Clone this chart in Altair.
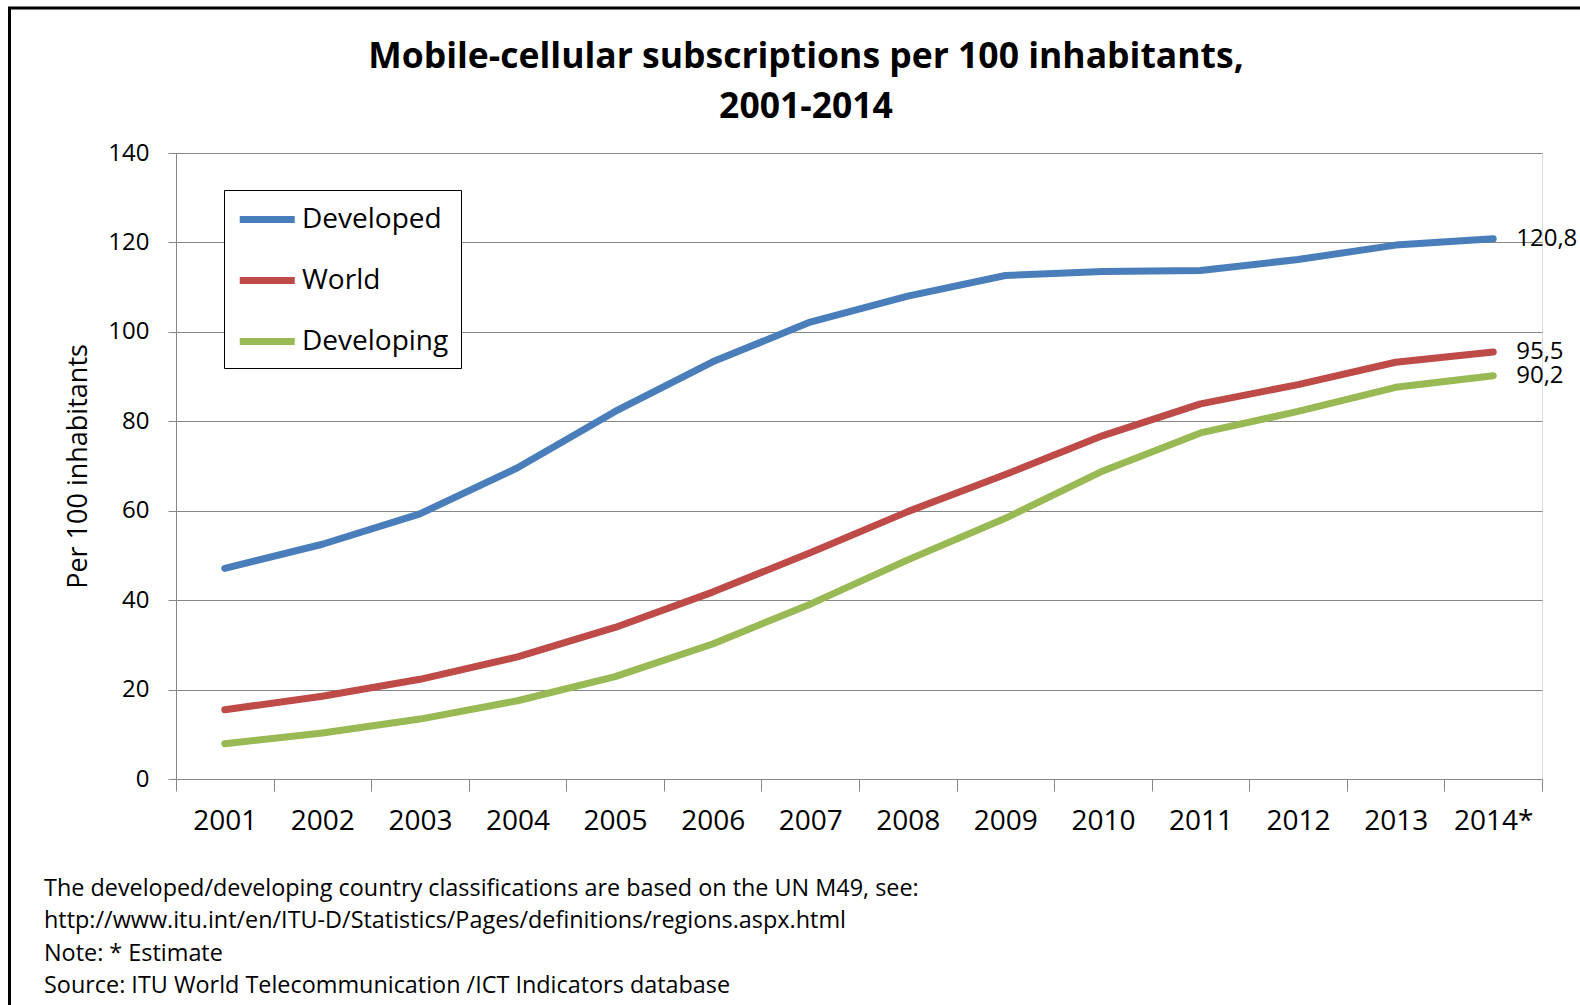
import altair as alt
import pandas as pd

FONT = "Open Sans"

years = ["2001", "2002", "2003", "2004", "2005", "2006", "2007",
         "2008", "2009", "2010", "2011", "2012", "2013", "2014*"]
developed = [47.1, 52.5, 59.3, 69.6, 82.2, 93.3, 102.2, 108.0, 112.6, 113.5, 113.7, 116.2, 119.4, 120.8]
world = [15.5, 18.5, 22.3, 27.3, 33.9, 41.8, 50.6, 59.8, 68.1, 76.8, 83.9, 88.2, 93.2, 95.5]
developing = [7.9, 10.3, 13.4, 17.5, 22.9, 30.2, 39.1, 49.0, 58.3, 68.9, 77.4, 82.2, 87.6, 90.2]
series_names = ["Developed", "World", "Developing"]
series_colors = ["#4a7ebb", "#be4b48", "#98b954"]
y_ticks = [0, 20, 40, 60, 80, 100, 120, 140]

title_lines = ["Mobile-cellular subscriptions per 100 inhabitants,", "2001-2014"]
y_title = "Per 100 inhabitants"
footnotes = [
    "The developed/developing country classifications are based on the UN M49, see:",
    "http://www.itu.int/en/ITU-D/Statistics/Pages/definitions/regions.aspx.html",
    "Note: * Estimate",
    "Source:  ITU World Telecommunication /ICT Indicators database",
]

rows = []
for name, vals in zip(series_names, [developed, world, developing]):
    for yr, v in zip(years, vals):
        rows.append({"year": yr, "series": name, "value": v,
                     "label": f"{v:.1f}".replace(".", ",")})
df = pd.DataFrame(rows)
one = pd.DataFrame({"k": [0]})

x_enc = alt.X(
    "year:N", sort=years, title=None, bandPosition=0.5,
    scale=alt.Scale(type="band", domain=years, paddingInner=0, paddingOuter=0),
    axis=alt.Axis(tickBand="extent", labelAngle=0, labelFontSize=28, labelFont=FONT,
                  labelColor="black", tickSize=12, tickColor="#868686",
                  domainColor="#868686", labelPadding=16, grid=False),
)
y_enc = alt.Y(
    "value:Q", title=y_title,
    scale=alt.Scale(domain=[0, 140], nice=False),
    axis=alt.Axis(values=y_ticks, labelFontSize=24, labelFont=FONT, labelColor="black",
                  tickSize=8, tickColor="#868686", domainColor="#868686",
                  labelPadding=19, gridColor="#868686", gridWidth=1,
                  titleFontSize=27, titleFont=FONT, titleFontWeight="normal",
                  titleColor="black", titleX=-98, titleY=313, titleAngle=270,
                  titleBaseline="middle", titleAlign="center"),
)
color_enc = alt.Color(
    "series:N", sort=series_names,
    scale=alt.Scale(domain=series_names, range=series_colors),
    legend=alt.Legend(title=None, orient="none", legendX=48, legendY=37,
                      direction="vertical", symbolType="M-1,0H3",
                      symbolStrokeWidth=7, symbolSize=756,
                      labelFontSize=28, labelFont=FONT, labelColor="black",
                      labelOffset=31, rowPadding=29, padding=12,
                      strokeColor="black", fillColor="white"),
)

lines = alt.Chart(df).mark_line(strokeWidth=7, strokeCap="round", strokeJoin="round").encode(
    x=x_enc, y=y_enc, color=color_enc
)

end_labels = alt.Chart(df).transform_filter(
    alt.datum.year == years[-1]
).mark_text(align="left", baseline="middle", dx=23, fontSize=24, font=FONT,
            color="black").encode(
    x=alt.X("year:N", sort=years, bandPosition=0.5),
    y="value:Q",
    text="label:N",
)

frame = alt.Chart(one).mark_rect(fill="transparent", stroke="black", strokeWidth=3).encode(
    x=alt.value(-166.5), x2=alt.value(1500), y=alt.value(-145), y2=alt.value(900)
)

title1 = alt.Chart(one).mark_text(
    align="center", baseline="middle", fontSize=35.5, font=FONT, fontWeight="bold", color="black"
).encode(x=alt.value(630), y=alt.value(-96), text=alt.value(title_lines[0]))
title2 = alt.Chart(one).mark_text(
    align="center", baseline="middle", fontSize=35.5, font=FONT, fontWeight="bold", color="black"
).encode(x=alt.value(630), y=alt.value(-46), text=alt.value(title_lines[1]))

notes = alt.Chart(one).mark_text(
    align="left", baseline="top", fontSize=23.4, font=FONT, color="black",
    lineBreak="\n", lineHeight=32.3,
).encode(
    x=alt.value(-132), y=alt.value(725), text=alt.value("\n".join(footnotes))
)

chart = alt.layer(frame, lines, end_labels, title1, title2, notes).properties(
    width=1366, height=626,
    padding={"left": 176, "top": 153, "right": 38, "bottom": 226},
    autosize=alt.AutoSizeParams(type="none"),
).configure_view(strokeWidth=0).configure(background="white")

chart.save("out.html", embed_options={"renderer": "svg", "actions": False})
